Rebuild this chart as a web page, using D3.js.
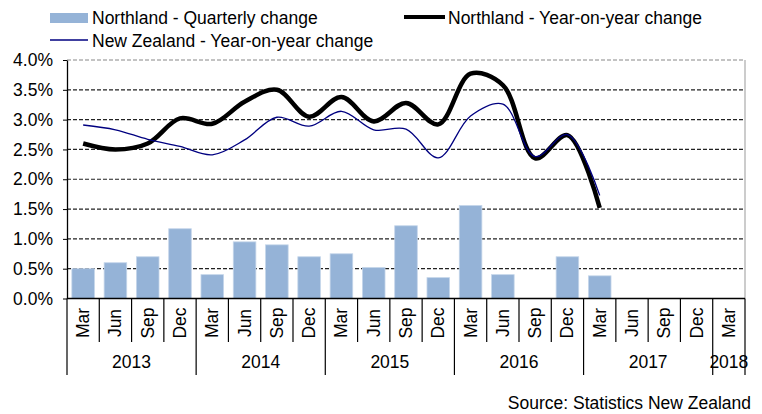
<!DOCTYPE html>
<html>
<head>
<meta charset="utf-8">
<script src="https://cdn.jsdelivr.net/npm/d3@7/dist/d3.min.js"></script>
<style>
  body { margin: 0; background: #fff; }
  svg { display: block; font-family: "Liberation Sans", Arial, sans-serif; }
</style>
</head>
<body>
<svg id="chart" width="762" height="414"></svg>
<script>
// quarters Mar 2013 .. Mar 2018
const months = ['Mar', 'Jun', 'Sep', 'Dec']
const quarters = d3.range(21).map(i => months[i % 4])
const years = ['2013', '2014', '2015', '2016', '2017', '2018']
const yTicks = [0, 0.5, 1, 1.5, 2, 2.5, 3, 3.5, 4]

const quarterlyChange = [0.5, 0.6, 0.7, 1.17, 0.4, 0.95, 0.9, 0.7, 0.75, 0.52, 1.22, 0.35, 1.56, 0.4, null, 0.7, 0.38]
const northlandYoy = [2.6, 2.5, 2.6, 3.02, 2.93, 3.3, 3.5, 3.05, 3.38, 2.97, 3.28, 2.92, 3.77, 3.58, 2.35, 2.74, 1.52]
const nzYoy = [2.91, 2.83, 2.67, 2.55, 2.41, 2.66, 3.04, 2.89, 3.14, 2.83, 2.84, 2.36, 3.06, 3.26, 2.38, 2.75, 1.73]

const svg = d3.select('#chart')
const plotLeft = 67, plotRight = 745, plotTop = 60, plotBottom = 298.5
const fontSize = '17.5px'

const x = d3.scaleBand().domain(d3.range(quarters.length)).range([plotLeft, plotRight]).paddingInner(0.3).paddingOuter(0.15)
const xc = i => x(i) + x.bandwidth() / 2
const step = (plotRight - plotLeft) / quarters.length
const y = d3.scaleLinear().domain([0, 4]).range([plotBottom, plotTop])

// gridlines
svg.append('g')
    .selectAll('line')
    .data(yTicks.filter(t => t > 0))
    .join('line')
    .attr('x1', plotLeft).attr('x2', plotRight)
    .attr('y1', d => y(d)).attr('y2', d => y(d))
    .attr('stroke', d => d === 4 ? '#888' : '#222')
    .attr('stroke-width', 1.2)
    .attr('stroke-dasharray', '4,2')

// right border
svg.append('line')
    .attr('x1', plotRight).attr('x2', plotRight).attr('y1', plotTop).attr('y2', plotBottom)
    .attr('stroke', '#999').attr('stroke-width', 1)

// bars
svg.append('g')
    .selectAll('rect')
    .data(quarterlyChange.map((v, i) => ({ v, i })).filter(d => d.v != null))
    .join('rect')
    .attr('x', d => x(d.i))
    .attr('width', x.bandwidth())
    .attr('y', d => y(d.v))
    .attr('height', d => plotBottom - y(d.v))
    .attr('fill', '#95b3d7')
    .attr('stroke', '#c5d6ea')
    .attr('stroke-width', 0.8)

// lines
const line = d3.line()
    .x((d, i) => xc(i))
    .y(d => y(d))
    .curve(d3.curveCatmullRom.alpha(0.5))

svg.append('path')
    .datum(northlandYoy)
    .attr('d', line)
    .attr('fill', 'none')
    .attr('stroke', '#000')
    .attr('stroke-width', 4.5)

svg.append('path')
    .datum(nzYoy)
    .attr('d', line)
    .attr('fill', 'none')
    .attr('stroke', '#000080')
    .attr('stroke-width', 1.3)

// y axis
const yAxis = svg.append('g')
    .attr('transform', `translate(${plotLeft},0)`)
    .call(d3.axisLeft(y).tickValues(yTicks).tickFormat(d => d.toFixed(1) + '%').tickSize(4).tickSizeOuter(0))
yAxis.select('.domain').attr('stroke', '#000').attr('stroke-width', 1.3)
yAxis.selectAll('.tick line').attr('stroke', '#000')
yAxis.selectAll('.tick text')
    .attr('x', -14)
    .attr('fill', '#000')
    .style('font-size', fontSize)
    .style('font-family', '"Liberation Sans", Arial, sans-serif')

// x axis
svg.append('line')
    .attr('x1', plotLeft).attr('x2', plotRight).attr('y1', plotBottom).attr('y2', plotBottom)
    .attr('stroke', '#000').attr('stroke-width', 1.3)

svg.append('g')
    .selectAll('line')
    .data(d3.range(quarters.length + 1))
    .join('line')
    .attr('x1', i => plotLeft + i * step).attr('x2', i => plotLeft + i * step)
    .attr('y1', plotBottom)
    .attr('y2', i => (i % 4 === 0 || i === quarters.length) ? 375 : 342)
    .attr('stroke', '#000').attr('stroke-width', 1.2)

svg.append('g')
    .selectAll('text')
    .data(quarters)
    .join('text')
    .attr('transform', (d, i) => `translate(${plotLeft + (i + 0.5) * step + 6},323) rotate(-90)`)
    .attr('text-anchor', 'middle')
    .style('font-size', fontSize)
    .text(d => d)

svg.append('g')
    .selectAll('text')
    .data(years)
    .join('text')
    .attr('x', (d, i) => {
        const a = plotLeft + i * 4 * step
        const b = Math.min(plotLeft + (i + 1) * 4 * step, plotRight)
        return (a + b) / 2
    })
    .attr('y', 368)
    .attr('text-anchor', 'middle')
    .style('font-size', fontSize)
    .text(d => d)

// legend
const legend = svg.append('g').style('font-size', fontSize)
legend.append('rect').attr('x', 50).attr('y', 13).attr('width', 38).attr('height', 10).attr('fill', '#95b3d7')
legend.append('text').attr('x', 92).attr('y', 23.5).text('Northland - Quarterly change')
legend.append('line').attr('x1', 404).attr('x2', 445).attr('y1', 17).attr('y2', 17).attr('stroke', '#000').attr('stroke-width', 4)
legend.append('text').attr('x', 448).attr('y', 23.5).text('Northland - Year-on-year change')
legend.append('line').attr('x1', 50).attr('x2', 88).attr('y1', 40).attr('y2', 40).attr('stroke', '#000080').attr('stroke-width', 1.3)
legend.append('text').attr('x', 92).attr('y', 46.5).text('New Zealand - Year-on-year change')

svg.append('text')
    .attr('x', 751).attr('y', 409)
    .attr('text-anchor', 'end')
    .style('font-size', fontSize)
    .text('Source: Statistics New Zealand')
</script>
</body>
</html>
